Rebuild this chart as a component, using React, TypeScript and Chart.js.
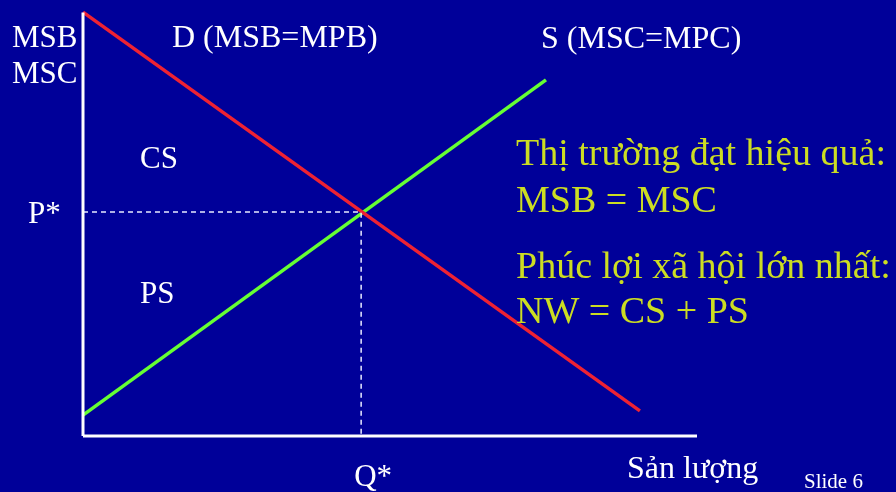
import React, { useEffect, useRef } from "react";
import { Chart, registerables } from "chart.js";

Chart.register(...registerables);

// ---- data (value space: quantity 0..100, price 0..100) ----
const demandX = [0, 90.7];
const demandY = [99.5, 5.9];
const supplyX = [0, 75.4];
const supplyY = [4.9, 83.6];
const qStar = 45.3;
const pStar = 52.6;
const axisTopY = 99.4;
const axisRightX = 100;

const yAxisLabels = ["MSB", "MSC"];
const demandLabel = "D (MSB=MPB)";
const supplyLabel = "S (MSC=MPC)";
const areaLabels = ["CS", "PS"];
const pLabel = "P*";
const qLabel = "Q*";
const xAxisTitle = "Sản lượng";
const slideLabel = "Slide 6";
const noteLines = [
  "Thị trường đạt hiệu quả:",
  "MSB = MSC",
  "Phúc lợi xã hội lớn nhất:",
  "NW = CS + PS",
];

const BG = "#000099";
const WHITE = "#ffffff";
const RED = "#ee2233";
const GREEN = "#66ff33";
const NOTE = "#ccdd22";
const FONT = '"Liberation Serif", "Times New Roman", serif';

const pts = (xs: number[], ys: number[]) => xs.map((x, i) => ({ x, y: ys[i] }));

const textPlugin = {
  id: "slideText",
  afterDraw(chart: any) {
    const ctx = chart.ctx;
    const xs = chart.scales.x;
    const ys = chart.scales.y;
    ctx.save();
    ctx.textBaseline = "alphabetic";
    ctx.textAlign = "left";
    ctx.fillStyle = WHITE;
    ctx.font = `31px ${FONT}`;
    ctx.fillText(yAxisLabels[0], 12, 47);
    ctx.fillText(yAxisLabels[1], 12, 83);
    ctx.font = `32px ${FONT}`;
    ctx.fillText(demandLabel, 172, 47);
    ctx.fillText(supplyLabel, 541, 48);
    ctx.font = `31px ${FONT}`;
    ctx.fillText(areaLabels[0], 140, 168);
    ctx.fillText(areaLabels[1], 140, 303);
    ctx.fillText(pLabel, 28, ys.getPixelForValue(pStar) + 11);
    ctx.fillText(qLabel, xs.getPixelForValue(qStar) - 7, 486);
    ctx.font = `32px ${FONT}`;
    ctx.fillText(xAxisTitle, 627, 478);
    ctx.font = `21px ${FONT}`;
    ctx.fillText(slideLabel, 804, 488);
    ctx.fillStyle = NOTE;
    ctx.font = `38px ${FONT}`;
    ctx.fillText(noteLines[0], 516, 165);
    ctx.fillText(noteLines[1], 516, 212);
    ctx.fillText(noteLines[2], 516, 278);
    ctx.fillText(noteLines[3], 516, 323);
    ctx.restore();
  },
};

export default function App() {
  const ref = useRef<HTMLCanvasElement>(null);
  useEffect(() => {
    if (!ref.current) return;
    const chart = new Chart(ref.current, {
      type: "scatter",
      data: {
        datasets: [
          {
            data: pts([0, axisRightX], [0, 0]),
            showLine: true,
            borderColor: WHITE,
            borderWidth: 3,
            pointRadius: 0,
            clip: false as any,
          },
          {
            data: pts([0, 0], [0, axisTopY]),
            showLine: true,
            borderColor: WHITE,
            borderWidth: 3,
            pointRadius: 0,
            clip: false as any,
          },
          {
            data: pts([0, qStar, qStar], [pStar, pStar, 0]),
            showLine: true,
            borderColor: "#e8eaff",
            borderWidth: 1.5,
            borderDash: [5, 4],
            pointRadius: 0,
            clip: false as any,
          },
          {
            data: pts(demandX, demandY),
            showLine: true,
            borderColor: RED,
            borderWidth: 3.5,
            pointRadius: 0,
            clip: false as any,
          },
          {
            data: pts(supplyX, supplyY),
            showLine: true,
            borderColor: GREEN,
            borderWidth: 3.5,
            pointRadius: 0,
            clip: false as any,
          },
        ],
      },
      options: {
        animation: false,
        responsive: false,
        layout: { padding: { left: 83, right: 896 - 697, top: 10, bottom: 492 - 436 } },
        plugins: { legend: { display: false }, tooltip: { enabled: false } },
        scales: {
          x: { type: "linear", min: 0, max: 100, display: false },
          y: { type: "linear", min: 0, max: 100, display: false },
        },
      },
      plugins: [textPlugin],
    });
    return () => chart.destroy();
  }, []);
  return (
    <div style={{ position: "fixed", left: 0, top: 0, width: 896, height: 492, background: BG }}>
      <canvas ref={ref} width={896} height={492} style={{ display: "block" }} />
    </div>
  );
}
